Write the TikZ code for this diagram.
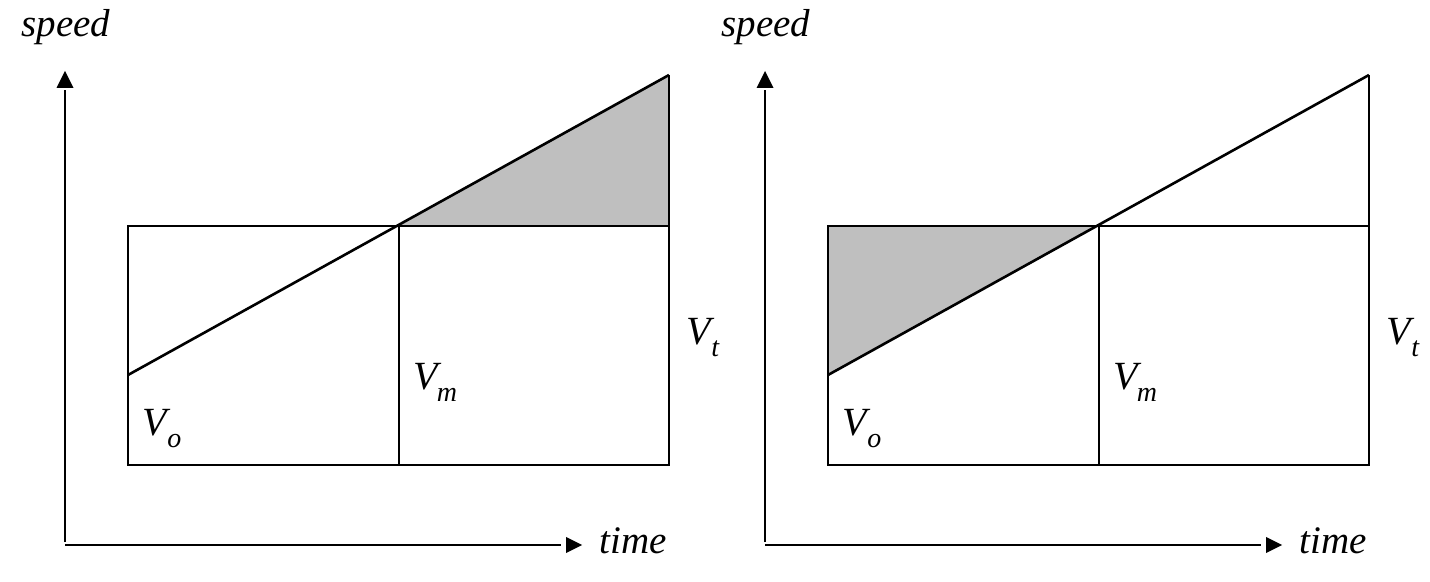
\documentclass[tikz,border=0pt]{standalone}
\usepackage{fontspec}
\setmainfont{Liberation Serif}
\begin{document}
\begin{tikzpicture}[x=0.5pt,y=-0.5pt,
  box/.style={line width=1.3pt},
  axis/.style={line width=0.9pt},
  tiphead/.style={fill=black},
  lbl/.style={font=\fontsize{19.5}{19.5}\selectfont\itshape, inner sep=0pt, anchor=base west},
  vlbl/.style={font=\fontsize{20}{20}\selectfont, inner sep=0pt, anchor=base west},
  shade/.style={fill=black!25}]
\useasboundingbox (0,0) rectangle (1430,582);
\foreach \s/\n/\sh in {0/L/1,700/R/2}{
  \begin{scope}[xshift=\s*0.5pt]
    \coordinate (\n-bl) at (128,465);
    \coordinate (\n-tl) at (128,226);
    \coordinate (\n-mt) at (399,226);
    \coordinate (\n-mb) at (399,465);
    \coordinate (\n-tr) at (669,226);
    \coordinate (\n-br) at (669,465);
    \coordinate (\n-top) at (669,75);
    \coordinate (\n-start) at (128,375);
    \ifnum\sh=1
      \fill[shade] (\n-mt) -- (\n-top) -- (\n-tr) -- cycle;
    \else
      \fill[shade] (\n-tl) -- (\n-mt) -- (\n-start) -- cycle;
    \fi
    \draw[box] (\n-tl) rectangle (\n-br);
    \draw[box] (\n-mt) -- (\n-mb);
    \draw[box] (\n-tr) -- (\n-top);
    \draw[box] (\n-start) -- (\n-top);
    % axes
    \coordinate (\n-ytop) at (65,90);
    \coordinate (\n-ybot) at (65,542);
    \coordinate (\n-xl) at (65,545);
    \coordinate (\n-xr) at (561,545);
    \draw[axis] (\n-ybot) -- (\n-ytop);
    \draw[axis] (\n-xl) -- (\n-xr);
    \fill[tiphead] (65,71) -- (73.5,88) -- (56.5,88) -- cycle;
    \fill[tiphead] (582,545) -- (566,537) -- (566,553) -- cycle;
    % labels
    \node[lbl] (\n-speed) at (21,37) {speed};
    \node[lbl] (\n-time) at (599,553) {time};
    \node[vlbl] (\n-vo) at (142,436) {\textit{V}\kern-0.08em\raisebox{-0.3em}{\fontsize{14}{14}\selectfont\textit{o}}};
    \node[vlbl] (\n-vm) at (413,390) {\textit{V}\kern-0.12em\raisebox{-0.3em}{\fontsize{14}{14}\selectfont\textit{m}}};
    \node[vlbl] (\n-vt) at (686,345) {\textit{V}\kern-0.08em\raisebox{-0.3em}{\fontsize{14}{14}\selectfont\textit{t}}};
  \end{scope}
}
\end{tikzpicture}
\end{document}
